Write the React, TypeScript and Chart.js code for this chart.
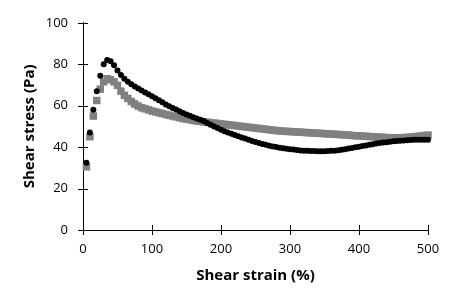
import React, { useEffect, useRef } from "react";
import { Chart, registerables } from "chart.js";

Chart.register(...registerables);

// Shear strain (%) sampled every 5 %
const strain: number[] = [
  5, 10, 15, 20, 25, 30, 35, 40, 45, 50, 55, 60, 65, 70, 75, 80, 85, 90, 95, 100,
  105, 110, 115, 120, 125, 130, 135, 140, 145, 150, 155, 160, 165, 170, 175, 180, 185, 190, 195, 200,
  205, 210, 215, 220, 225, 230, 235, 240, 245, 250, 255, 260, 265, 270, 275, 280, 285, 290, 295, 300,
  305, 310, 315, 320, 325, 330, 335, 340, 345, 350, 355, 360, 365, 370, 375, 380, 385, 390, 395, 400,
  405, 410, 415, 420, 425, 430, 435, 440, 445, 450, 455, 460, 465, 470, 475, 480, 485, 490, 495, 500,
];

// Black circles
const stressBlack: number[] = [
  32.5, 47, 58, 67, 74.5, 80, 82, 81.5, 79.5, 77, 74.8, 73, 71.6, 70.4, 69.3, 68.3, 67.3, 66.4, 65.5, 64.6,
  63.6, 62.6, 61.6, 60.6, 59.7, 58.9, 58.1, 57.3, 56.5, 55.8, 55.1, 54.4, 53.8, 53.2, 52.6, 51.7, 50.8, 50, 49.2, 48.4,
  47.7, 47.1, 46.5, 45.9, 45.3, 44.7, 44.1, 43.5, 43, 42.5, 42, 41.5, 41.1, 40.7, 40.3, 40, 39.7, 39.4, 39.2, 39,
  38.8, 38.6, 38.4, 38.3, 38.2, 38.1, 38.1, 38, 38, 38, 38.1, 38.2, 38.3, 38.5, 38.7, 39, 39.3, 39.6, 39.9, 40.2,
  40.5, 40.8, 41.1, 41.4, 41.7, 42, 42.2, 42.4, 42.6, 42.8, 43, 43.1, 43.2, 43.3, 43.4, 43.5, 43.5, 43.6, 43.6, 43.6,
];

// Grey squares
const stressGrey: number[] = [
  30.5, 45, 55, 62.5, 68, 71.5, 73, 72.5, 71.5, 69.8, 67, 65, 63.5, 62, 60.8, 59.8, 59, 58.5, 58, 57.4,
  57, 56.6, 56.2, 55.8, 55.4, 55, 54.6, 54.2, 53.8, 53.5, 53.2, 52.9, 52.6, 52.4, 52.2, 52, 51.8, 51.6, 51.4, 51.2,
  51, 50.8, 50.6, 50.4, 50.2, 50, 49.8, 49.6, 49.4, 49.2, 49, 48.8, 48.6, 48.4, 48.2, 48, 47.8, 47.7, 47.6, 47.5,
  47.4, 47.3, 47.2, 47.1, 47, 46.9, 46.8, 46.7, 46.6, 46.5, 46.4, 46.3, 46.2, 46.1, 46, 45.9, 45.8, 45.6, 45.5, 45.4,
  45.3, 45.2, 45.1, 45, 44.9, 44.8, 44.7, 44.6, 44.5, 44.5, 44.5, 44.5, 44.6, 44.7, 44.8, 45, 45.2, 45.4, 45.6, 45.8,
];

const xTitle = "Shear strain (%)";
const yTitle = "Shear stress (Pa)";

const FONT = "'Open Sans', 'Noto Sans', sans-serif";

const crossTicks = {
  id: "crossTicks",
  beforeDatasetsDraw(chart: any) {
    const ctx = chart.ctx;
    const xs = chart.scales.x;
    const ys = chart.scales.y;
    const area = chart.chartArea;
    ctx.save();
    ctx.strokeStyle = "#000";
    ctx.lineWidth = 1;
    ctx.beginPath();
    xs.ticks.forEach((t: any) => {
      const px = Math.round(xs.getPixelForValue(t.value)) + 0.5;
      ctx.moveTo(px, area.bottom - 5);
      ctx.lineTo(px, area.bottom + 5);
    });
    ys.ticks.forEach((t: any) => {
      const py = Math.round(ys.getPixelForValue(t.value)) + 0.5;
      ctx.moveTo(area.left - 5, py);
      ctx.lineTo(area.left + 5, py);
    });
    ctx.stroke();
    ctx.restore();
  },
};

export default function App() {
  const ref = useRef<HTMLCanvasElement | null>(null);

  useEffect(() => {
    if (!ref.current) return;
    const chart = new Chart(ref.current, {
      type: "scatter",
      data: {
        datasets: [
          {
            label: "black",
            data: strain.map((x, i) => ({ x, y: stressBlack[i] })),
            pointStyle: "circle",
            pointRadius: 3,
            pointBorderWidth: 0,
            backgroundColor: "#000000",
            borderColor: "#000000",
            showLine: false,
            clip: false as any,
          },
          {
            label: "grey",
            data: strain.map((x, i) => ({ x, y: stressGrey[i] })),
            pointStyle: "rect",
            pointRadius: 5.3,
            pointBorderWidth: 0,
            backgroundColor: "#808080",
            borderColor: "#808080",
            showLine: false,
            clip: false as any,
          },
        ],
      },
      options: {
        responsive: false,
        animation: false,
        events: [],
        layout: { padding: { left: 0, top: 16, right: 27, bottom: 0 } },
        plugins: { legend: { display: false }, tooltip: { enabled: false } },
        scales: {
          x: {
            type: "linear",
            min: 0,
            max: 500,
            ticks: {
              stepSize: 100,
              color: "#000",
              padding: 11,
              maxRotation: 0,
              font: { family: FONT, size: 13 },
            },
            grid: { display: false, drawTicks: false },
            border: { display: true, color: "#000", width: 1 },
            title: {
              display: true,
              text: xTitle,
              color: "#000",
              font: { family: FONT, size: 15, weight: "bold" },
              padding: { top: 0, bottom: 18 },
            },
            afterFit: (s: any) => {
              s.height = 73;
            },
          },
          y: {
            type: "linear",
            min: 0,
            max: 100,
            ticks: {
              stepSize: 20,
              color: "#000",
              padding: 15,
              font: { family: FONT, size: 13 },
            },
            grid: { display: false, drawTicks: false },
            border: { display: true, color: "#000", width: 1 },
            title: {
              display: true,
              text: yTitle,
              color: "#000",
              font: { family: FONT, size: 15, weight: "bold" },
              padding: { top: 21, bottom: 0 },
            },
            afterFit: (s: any) => {
              s.width = 83;
            },
          },
        },
      },
      plugins: [crossTicks],
    });
    return () => chart.destroy();
  }, []);

  return (
    <div style={{ position: "absolute", left: 0, top: 0, width: 455, height: 303, background: "#fff" }}>
      <canvas ref={ref} width={455} height={303} style={{ display: "block" }} />
    </div>
  );
}
